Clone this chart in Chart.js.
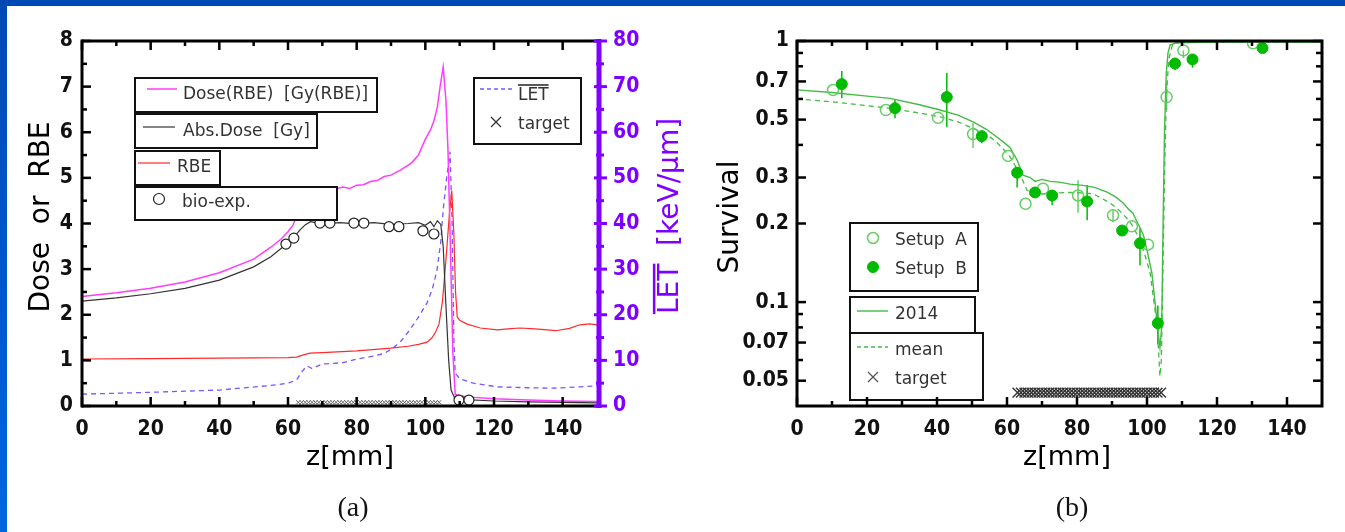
<!DOCTYPE html>
<html>
<head>
<meta charset="utf-8">
<script src="https://cdn.jsdelivr.net/npm/chart.js@4.4.1/dist/chart.umd.min.js"></script>
<style>
  html, body { margin: 0; padding: 0; background: #fff; }
  body { width: 1345px; height: 532px; position: relative; overflow: hidden; }
  #topband { position: absolute; left: 0; top: 0; width: 1345px; height: 6px; background: #0049b4; }
  #leftband { position: absolute; left: 0; top: 0; width: 7px; height: 532px; background: linear-gradient(#0049b4, #0066e0); }
  canvas { position: absolute; top: 0; }
  #panelA { left: 0; }
  #panelB { left: 690px; }
  .cap { position: absolute; top: 491px; width: 80px; text-align: center; line-height: 28px;
         font: 28px 'Liberation Serif', 'DejaVu Serif', serif; color: #111; }
</style>
</head>
<body>
<div id="topband"></div>
<div id="leftband"></div>
<canvas id="panelA" width="690" height="532"></canvas>
<canvas id="panelB" width="655" height="532"></canvas>
<div class="cap" style="left:313px">(a)</div>
<div class="cap" style="left:1032px">(b)</div>
<script>
// ---------- panel (a): dose / RBE / LET vs depth ----------
const zDoseRbe = [0, 10, 20, 30, 40, 50, 55, 58, 60, 61.5, 63, 65, 68, 74, 76, 78, 80, 82, 84, 86, 88, 90, 93, 96, 98, 100, 101.5, 102.5, 103.5, 104.3, 105.2, 106, 106.6, 107.3, 108, 108.7, 112, 120, 130, 140, 150];
const doseRbe = [2.40, 2.48, 2.58, 2.72, 2.92, 3.22, 3.48, 3.66, 3.82, 3.97, 4.25, 4.55, 4.68, 4.76, 4.80, 4.77, 4.84, 4.85, 4.92, 4.94, 5.03, 5.06, 5.18, 5.33, 5.50, 5.85, 6.05, 6.25, 6.55, 7.00, 7.43, 6.70, 5.60, 3.50, 1.20, 0.25, 0.20, 0.16, 0.13, 0.11, 0.10];

const zAbsDose = [0, 10, 20, 30, 40, 50, 55, 58.6, 61.5, 63.5, 65, 66.5, 70, 75, 80, 85, 90, 95, 98, 100, 101.5, 102.5, 103.5, 104.5, 105.2, 106, 106.8, 107.5, 108.5, 112, 120, 130, 140, 150];
const absDose = [2.30, 2.37, 2.46, 2.58, 2.76, 3.05, 3.27, 3.49, 3.68, 3.86, 3.97, 4.04, 3.99, 4.02, 3.99, 4.02, 3.98, 4.00, 4.02, 3.96, 4.04, 3.93, 4.06, 3.98, 3.50, 2.20, 1.00, 0.35, 0.18, 0.14, 0.11, 0.09, 0.08, 0.07];

const zRbe = [0, 20, 40, 60, 62.5, 64, 66.4, 70, 80, 90, 95, 98, 100.5, 102, 103, 104, 105, 106, 107, 107.7, 108.3, 108.8, 109.3, 110, 112, 116, 121, 124, 127.6, 132, 138, 142, 145, 148, 150];
const rbe = [1.03, 1.04, 1.05, 1.06, 1.07, 1.11, 1.16, 1.17, 1.21, 1.27, 1.31, 1.35, 1.40, 1.50, 1.62, 1.80, 2.30, 3.20, 4.20, 4.72, 3.80, 2.50, 1.95, 1.88, 1.80, 1.71, 1.67, 1.69, 1.71, 1.69, 1.65, 1.70, 1.78, 1.80, 1.78];

const zLet = [0, 20, 40, 55, 60, 62.5, 64, 65.5, 67, 70, 76, 80, 84, 88, 90.6, 93, 95.5, 98, 100.5, 102, 103.4, 104.5, 105.2, 106.2, 107.2, 107.8, 108.3, 108.7, 110, 114, 121, 130, 137, 145, 150];
const letBar = [2.6, 3.0, 3.5, 4.5, 5.0, 5.7, 7.5, 8.8, 8.2, 9.2, 9.5, 10.3, 10.8, 11.5, 12.7, 14.3, 16.7, 19.5, 22.6, 25.5, 29.8, 36, 43, 50, 55.7, 40, 15, 7.2, 6.0, 5.0, 4.2, 4.0, 3.9, 4.2, 4.4];

const zBio = [59.4, 61.7, 69.3, 72.2, 79.2, 82.1, 89.4, 92.3, 99.3, 102.5, 109.8, 112.7];
const bioExp = [3.55, 3.68, 4.01, 4.01, 4.01, 4.01, 3.93, 3.93, 3.84, 3.77, 0.13, 0.13];

// target region markers (z positions)
const zTarget = [63, 64, 65, 66, 67, 68, 69, 70, 71, 72, 73, 74, 75, 76, 77, 78, 79, 80, 81, 82, 83, 84,
                 85, 86, 87, 88, 89, 90, 91, 92, 93, 94, 95, 96, 97, 98, 99, 100, 101, 102, 103, 104];
const targetDoseLevel = 0.08;

// ---------- panel (b): survival vs depth ----------
const zFit = [0, 10, 20, 26.6, 35, 40.9, 46, 50.3, 54, 57, 59, 60.9, 62.9, 64, 64.6, 66.6, 68, 70, 72.3, 75, 78, 81.7, 85, 88.6, 91, 93.1, 95, 96, 97, 98, 99, 100, 101.4, 102.3, 103, 103.7, 104.2, 104.6, 105, 105.5, 106, 106.6, 108, 109.4, 120, 140, 150];
const fit2014 = [0.65, 0.635, 0.615, 0.603, 0.57, 0.544, 0.52, 0.49, 0.46, 0.43, 0.41, 0.39, 0.35, 0.32, 0.306, 0.30, 0.29, 0.295, 0.29, 0.288, 0.283, 0.28, 0.275, 0.264, 0.253, 0.24, 0.225, 0.219, 0.205, 0.193, 0.18, 0.158, 0.129, 0.10, 0.08, 0.067, 0.08, 0.2, 0.45, 0.75, 0.9, 0.965, 0.98, 0.985, 0.99, 0.99, 0.99];

const zMean = [0, 10, 20, 26.6, 35, 40.9, 46, 50.3, 54, 57, 59, 60.9, 62.5, 63.7, 65.7, 68, 70.3, 74, 78, 81, 84.6, 87, 89.4, 92, 94.2, 96, 98, 99.5, 100.9, 102, 102.8, 103.3, 103.7, 104.1, 104.5, 105, 105.5, 106.2, 107.4, 110, 150];
const survMean = [0.60, 0.585, 0.565, 0.552, 0.53, 0.512, 0.49, 0.463, 0.44, 0.41, 0.385, 0.36, 0.33, 0.31, 0.268, 0.262, 0.26, 0.262, 0.263, 0.262, 0.26, 0.25, 0.24, 0.225, 0.21, 0.195, 0.172, 0.15, 0.129, 0.10, 0.083, 0.065, 0.052, 0.06, 0.12, 0.3, 0.6, 0.85, 0.98, 0.99, 0.995];

const zSetupA = [10.3, 25.4, 40.3, 50.3, 60.3, 65.3, 70.3, 80.3, 90.3, 95.7, 100.3, 105.6, 110.4, 130.3];
const survA = [0.649, 0.544, 0.508, 0.44, 0.363, 0.238, 0.272, 0.256, 0.215, 0.195, 0.166, 0.61, 0.92, 0.98];
const errLoA = [null, null, null, 0.389, null, null, null, 0.22, 0.202, null, null, 0.544, 0.86, null];
const errHiA = [null, null, null, 0.484, null, null, null, 0.293, 0.225, null, null, 0.69, 0.92, null];

const zSetupB = [12.8, 28.0, 42.8, 52.8, 62.9, 68.0, 72.9, 82.9, 92.9, 98.0, 103.1, 108.0, 113.0, 133.0];
const survB = [0.684, 0.553, 0.61, 0.432, 0.313, 0.263, 0.256, 0.243, 0.188, 0.168, 0.083, 0.82, 0.85, 0.94];
const errLoB = [0.604, 0.506, 0.468, 0.406, 0.275, 0.252, 0.235, 0.206, null, 0.138, 0.069, 0.774, 0.79, null];
const errHiB = [0.767, 0.599, 0.754, 0.455, 0.329, 0.275, 0.268, 0.281, null, 0.192, 0.097, 0.86, 0.88, null];
const targetSurvLevel = 0.045;

// ticks
const zTicks = [0, 20, 40, 60, 80, 100, 120, 140];
const zMinorTicks = [10, 30, 50, 70, 90, 110, 130];
const doseTicks = [0, 1, 2, 3, 4, 5, 6, 7, 8];
const doseMinorTicks = [0.5, 1.5, 2.5, 3.5, 4.5, 5.5, 6.5, 7.5];
const letTicks = [0, 10, 20, 30, 40, 50, 60, 70, 80];
const letMinorTicks = [5, 15, 25, 35, 45, 55, 65, 75];
const survTicks = [0.05, 0.07, 0.1, 0.2, 0.3, 0.5, 0.7, 1];
const survMinorTicks = [0.06, 0.08, 0.09, 0.4, 0.6, 0.8, 0.9];

// ---------- styling ----------
const TICK_FAMILY = "'Liberation Sans Narrow', 'DejaVu Sans Condensed', 'DejaVu Sans', sans-serif";
const TEXT_FAMILY = "'DejaVu Sans', sans-serif";
const PURPLE = '#8000ff';
const MAGENTA = '#ff3cff';
const DOSE_GRAY = '#333333';
const RED = '#ff2a2a';
const LET_COLOR = '#7c55ff';
const GREEN_LINE = '#44bb44';
const GREEN_A = '#66cc66';
const GREEN_B = '#00bb00';

const pts = (xs, ys) => xs.map((x, i) => ({ x: x, y: ys[i] }));
const setTicks = list => scale => { scale.ticks = list.map(v => ({ value: v })); };
const tickFont = { family: TICK_FAMILY, size: 21, weight: 'bold' };

function seg(ctx, x1, y1, x2, y2) {
    ctx.beginPath();
    ctx.moveTo(x1, y1);
    ctx.lineTo(x2, y2);
    ctx.stroke();
}

function legendBox(ctx, x, y, w, h) {
    ctx.fillStyle = '#fff';
    ctx.fillRect(x, y, w, h);
    ctx.strokeStyle = '#111';
    ctx.lineWidth = 2;
    ctx.setLineDash([]);
    ctx.strokeRect(x, y, w, h);
}

function sample(ctx, x1, x2, y, color, width, dash) {
    ctx.strokeStyle = color;
    ctx.lineWidth = width;
    ctx.setLineDash(dash || []);
    seg(ctx, x1, y, x2, y);
    ctx.setLineDash([]);
}

function label(ctx, text, x, y) {
    ctx.fillStyle = '#333';
    ctx.font = '17px ' + TEXT_FAMILY;
    ctx.textAlign = 'left';
    ctx.textBaseline = 'middle';
    ctx.fillText(text, x, y);
}

function crossMark(ctx, x, y, r, color) {
    ctx.strokeStyle = color;
    ctx.lineWidth = 1.2;
    seg(ctx, x - r, y - r, x + r, y + r);
    seg(ctx, x - r, y + r, x + r, y - r);
}

function dot(ctx, x, y, r, fill, stroke, width) {
    ctx.beginPath();
    ctx.arc(x, y, r, 0, Math.PI * 2);
    if (fill) { ctx.fillStyle = fill; ctx.fill(); }
    if (stroke) { ctx.strokeStyle = stroke; ctx.lineWidth = width || 1.2; ctx.stroke(); }
}

// vertical title, reading bottom to top; optional overline on the first `over` characters
function vTitle(ctx, text, cx, cy, size, color, over) {
    ctx.save();
    ctx.translate(cx, cy);
    ctx.rotate(-Math.PI / 2);
    ctx.font = size + 'px ' + TEXT_FAMILY;
    ctx.fillStyle = color;
    ctx.textAlign = 'left';
    ctx.textBaseline = 'alphabetic';
    const w = ctx.measureText(text).width;
    const base = size * 0.36;
    ctx.fillText(text, -w / 2, base);
    if (over) {
        const ow = ctx.measureText(text.slice(0, over)).width;
        ctx.strokeStyle = color;
        ctx.lineWidth = 2.5;
        seg(ctx, -w / 2, base - size * 0.73 - 3.5, -w / 2 + ow, base - size * 0.73 - 3.5);
    }
    ctx.restore();
}

function hTitle(ctx, text, cx, cy, size, color) {
    ctx.save();
    ctx.font = size + 'px ' + TEXT_FAMILY;
    ctx.fillStyle = color;
    ctx.textAlign = 'center';
    ctx.textBaseline = 'middle';
    ctx.fillText(text, cx, cy);
    ctx.restore();
}

// inward tick marks for the z axis (top and bottom)
function drawZTicks(ctx, a, x) {
    ctx.strokeStyle = '#000';
    ctx.lineWidth = 2.5;
    zTicks.forEach(v => {
        const p = x.getPixelForValue(v);
        seg(ctx, p, a.bottom, p, a.bottom - 9);
        seg(ctx, p, a.top, p, a.top + 9);
    });
    zMinorTicks.forEach(v => {
        const p = x.getPixelForValue(v);
        seg(ctx, p, a.bottom, p, a.bottom - 5);
        seg(ctx, p, a.top, p, a.top + 5);
    });
}

const panelADecor = {
    id: 'panelADecor',
    afterDatasetsDraw(chart) {
        const ctx = chart.ctx;
        ctx.save();
        legendBox(ctx, 135, 78, 242, 34);
        sample(ctx, 147, 177, 89, MAGENTA, 1.5);
        label(ctx, 'Dose(RBE)  [Gy(RBE)]', 183, 95);

        legendBox(ctx, 135, 114, 182, 34);
        sample(ctx, 143, 175, 127, DOSE_GRAY, 1.2);
        label(ctx, 'Abs.Dose  [Gy]', 183, 132);

        legendBox(ctx, 135, 151, 85, 34);
        sample(ctx, 138, 170, 163, RED, 1.2);
        label(ctx, 'RBE', 177, 168);

        legendBox(ctx, 135, 187, 202, 33);
        dot(ctx, 159, 199, 5.5, '#fff', '#222', 1.2);
        label(ctx, 'bio-exp.', 182, 203);

        legendBox(ctx, 474, 78, 107, 66);
        sample(ctx, 480, 513, 89, LET_COLOR, 1.3, [4, 3]);
        label(ctx, 'LET', 518, 96);
        const lw = ctx.measureText('LET').width;
        ctx.strokeStyle = '#222';
        ctx.lineWidth = 1.5;
        seg(ctx, 518, 85, 518 + lw, 85);
        crossMark(ctx, 496, 122, 5, '#333');
        label(ctx, 'target', 518, 125);
        ctx.restore();
    },
    afterDraw(chart) {
        const ctx = chart.ctx;
        const a = chart.chartArea;
        const { x, y, y2 } = chart.scales;
        ctx.save();
        drawZTicks(ctx, a, x);
        doseTicks.forEach(v => seg(ctx, a.left, y.getPixelForValue(v), a.left + 9, y.getPixelForValue(v)));
        doseMinorTicks.forEach(v => seg(ctx, a.left, y.getPixelForValue(v), a.left + 5, y.getPixelForValue(v)));
        ctx.lineWidth = 3;
        seg(ctx, a.left, a.top, a.right, a.top);
        seg(ctx, a.left, a.bottom, a.right, a.bottom);
        seg(ctx, a.left, a.top - 1.5, a.left, a.bottom + 1.5);
        // LET axis in purple
        ctx.strokeStyle = PURPLE;
        ctx.lineWidth = 5;
        seg(ctx, a.right + 2, a.top - 2, a.right + 2, a.bottom + 2);
        ctx.lineWidth = 3;
        letTicks.forEach(v => seg(ctx, a.right - 3, y2.getPixelForValue(v), a.right + 10, y2.getPixelForValue(v)));
        letMinorTicks.forEach(v => seg(ctx, a.right - 1, y2.getPixelForValue(v), a.right + 7, y2.getPixelForValue(v)));

        vTitle(ctx, 'Dose  or  RBE', 39, 217, 28, '#000');
        hTitle(ctx, 'z[mm]', 350, 458, 27, '#000');
        vTitle(ctx, 'LET  [keV/\u03bcm]', 668, 216, 28, PURPLE, 3);
        ctx.restore();
    }
};

const panelBDecor = {
    id: 'panelBDecor',
    beforeDatasetsDraw(chart) {
        const ctx = chart.ctx;
        const { x, y } = chart.scales;
        ctx.save();
        ctx.lineWidth = 1.5;
        [[zSetupA, errLoA, errHiA, GREEN_A], [zSetupB, errLoB, errHiB, GREEN_B]].forEach(([zs, lo, hi, color]) => {
            ctx.strokeStyle = color;
            zs.forEach((z, i) => {
                if (lo[i] === null) return;
                const p = x.getPixelForValue(z);
                seg(ctx, p, y.getPixelForValue(lo[i]), p, y.getPixelForValue(hi[i]));
            });
        });
        ctx.restore();
    },
    afterDatasetsDraw(chart) {
        const ctx = chart.ctx;
        ctx.save();
        legendBox(ctx, 160, 223, 128, 68);
        dot(ctx, 183, 238, 5.5, null, GREEN_A, 1.5);
        label(ctx, 'Setup  A', 205, 241);
        dot(ctx, 183, 267, 5.5, GREEN_B, GREEN_B, 1);
        label(ctx, 'Setup  B', 205, 270);

        legendBox(ctx, 160, 297, 125, 36);
        sample(ctx, 167, 198, 311, GREEN_LINE, 1.4);
        label(ctx, '2014', 205, 315);

        legendBox(ctx, 160, 333, 133, 67);
        sample(ctx, 167, 198, 347, GREEN_LINE, 1.3, [4, 3]);
        label(ctx, 'mean', 205, 351);
        crossMark(ctx, 183, 377, 5, '#555');
        label(ctx, 'target', 205, 380);
        ctx.restore();
    },
    afterDraw(chart) {
        const ctx = chart.ctx;
        const a = chart.chartArea;
        const { x, y } = chart.scales;
        ctx.save();
        drawZTicks(ctx, a, x);
        survTicks.forEach(v => {
            const p = y.getPixelForValue(v);
            seg(ctx, a.left, p, a.left + 9, p);
            seg(ctx, a.right, p, a.right - 9, p);
        });
        survMinorTicks.forEach(v => {
            const p = y.getPixelForValue(v);
            seg(ctx, a.left, p, a.left + 6, p);
            seg(ctx, a.right, p, a.right - 6, p);
        });
        ctx.lineWidth = 3;
        ctx.strokeRect(a.left, a.top, a.right - a.left, a.bottom - a.top);
        vTitle(ctx, 'Survival', 38, 217, 28, '#000');
        hTitle(ctx, 'z[mm]', 377, 458, 27, '#000');
        ctx.restore();
    }
};

const hiddenGrid = { display: false, drawTicks: false };
const noBorder = { display: false };

new Chart(document.getElementById('panelA'), {
    type: 'scatter',
    data: {
        datasets: [
            { label: 'bio-exp.', data: pts(zBio, bioExp), pointRadius: 5, pointBackgroundColor: '#fff',
              pointBorderColor: '#222', pointBorderWidth: 1.2 },
            { label: 'target', data: pts(zTarget, zTarget.map(() => targetDoseLevel)), pointStyle: 'crossRot',
              pointRadius: 3, pointBorderColor: '#666', pointBorderWidth: 1 },
            { label: 'Abs.Dose [Gy]', data: pts(zAbsDose, absDose), showLine: true, pointRadius: 0,
              borderColor: DOSE_GRAY, borderWidth: 1.2 },
            { label: 'Dose(RBE) [Gy(RBE)]', data: pts(zDoseRbe, doseRbe), showLine: true, pointRadius: 0,
              borderColor: MAGENTA, borderWidth: 1.5 },
            { label: 'RBE', data: pts(zRbe, rbe), showLine: true, pointRadius: 0,
              borderColor: RED, borderWidth: 1.2 },
            { label: 'LET', data: pts(zLet, letBar), yAxisID: 'y2', showLine: true, pointRadius: 0,
              borderColor: LET_COLOR, borderWidth: 1.3, borderDash: [5, 4] }
        ]
    },
    options: {
        responsive: false,
        animation: false,
        devicePixelRatio: 1,
        layout: { padding: { top: 41, left: 0, right: 0, bottom: 0 } },
        plugins: { legend: { display: false }, tooltip: { enabled: false } },
        scales: {
            x: {
                type: 'linear', min: 0, max: 150,
                grid: hiddenGrid, border: noBorder,
                afterBuildTicks: setTicks(zTicks),
                afterFit: s => { s.height = 126; },
                ticks: { autoSkip: false, maxRotation: 0, padding: 11, color: '#111', font: tickFont }
            },
            y: {
                type: 'linear', position: 'left', min: 0, max: 8,
                grid: hiddenGrid, border: noBorder,
                afterBuildTicks: setTicks(doseTicks),
                afterFit: s => { s.width = 82; },
                ticks: { padding: 9, color: '#111', font: tickFont }
            },
            y2: {
                type: 'linear', position: 'right', min: 0, max: 80,
                grid: hiddenGrid, border: noBorder,
                afterBuildTicks: setTicks(letTicks),
                afterFit: s => { s.width = 93; },
                ticks: { padding: 16, color: PURPLE, font: tickFont }
            }
        }
    },
    plugins: [panelADecor]
});

new Chart(document.getElementById('panelB'), {
    type: 'scatter',
    data: {
        datasets: [
            { label: 'Setup B', data: pts(zSetupB, survB), pointRadius: 5.5, pointBackgroundColor: GREEN_B,
              pointBorderColor: GREEN_B, pointBorderWidth: 1 },
            { label: 'Setup A', data: pts(zSetupA, survA), pointRadius: 5.5, pointBackgroundColor: 'rgba(255,255,255,0)',
              pointBorderColor: GREEN_A, pointBorderWidth: 1.5 },
            { label: 'target', data: pts(zTarget, zTarget.map(() => targetSurvLevel)), pointStyle: 'crossRot',
              pointRadius: 7, pointBorderColor: '#333', pointBorderWidth: 1.4 },
            { label: '2014', data: pts(zFit, fit2014), showLine: true, pointRadius: 0,
              borderColor: GREEN_LINE, borderWidth: 1.4 },
            { label: 'mean', data: pts(zMean, survMean), showLine: true, pointRadius: 0,
              borderColor: GREEN_LINE, borderWidth: 1.3, borderDash: [5, 4] }
        ]
    },
    options: {
        responsive: false,
        animation: false,
        devicePixelRatio: 1,
        layout: { padding: { top: 41, left: 0, right: 23, bottom: 0 } },
        plugins: { legend: { display: false }, tooltip: { enabled: false } },
        scales: {
            x: {
                type: 'linear', min: 0, max: 150,
                grid: hiddenGrid, border: noBorder,
                afterBuildTicks: setTicks(zTicks),
                afterFit: s => { s.height = 126; },
                ticks: { autoSkip: false, maxRotation: 0, padding: 11, color: '#111', font: tickFont }
            },
            y: {
                type: 'logarithmic', position: 'left', min: 0.04, max: 1,
                grid: hiddenGrid, border: noBorder,
                afterBuildTicks: setTicks(survTicks),
                afterFit: s => { s.width = 107; },
                ticks: { padding: 8, color: '#111', font: tickFont, callback: v => String(v) }
            }
        }
    },
    plugins: [panelBDecor]
});
</script>
</body>
</html>
